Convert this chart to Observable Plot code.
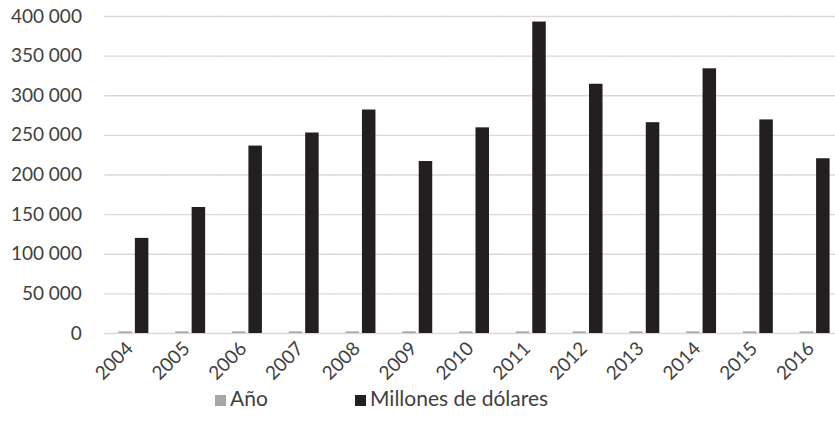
<!DOCTYPE html>
<html>
<head>
<meta charset="utf-8">
<script src="https://cdn.jsdelivr.net/npm/d3@7"></script>
<script src="https://cdn.jsdelivr.net/npm/@observablehq/plot@0.6"></script>
<style>
  body { margin: 0; background: #fff; font-family: Lato, "Open Sans", sans-serif; color: #404040; }
  #chart { width: 835px; overflow: hidden; }
  .legend { position: relative; height: 43px; font-size: 21px; }
  .legend .item { position: absolute; top: 0; display: flex; align-items: baseline; white-space: nowrap; }
  .legend .sw { display: inline-block; width: 11px; height: 11px; margin-right: 4px; }
</style>
</head>
<body>
<div id="chart"></div>
<div class="legend" id="legend"></div>
<script>
// Categories (years) and the two series drawn for each one
const years = [2004, 2005, 2006, 2007, 2008, 2009, 2010, 2011, 2012, 2013, 2014, 2015, 2016];
const anio = [2004, 2005, 2006, 2007, 2008, 2009, 2010, 2011, 2012, 2013, 2014, 2015, 2016];
const millones = [120000, 159000, 236500, 253000, 282000, 217000, 259500, 393000, 314500, 266000, 334000, 269500, 220500];
const series = ["Año", "Millones de dólares"];
const seriesColors = ["#a6a6a6", "#231f20"];
const yTicks = [0, 50000, 100000, 150000, 200000, 250000, 300000, 350000, 400000];

const rows = years.flatMap((year, i) => [
  {year, serie: series[0], value: anio[i]},
  {year, serie: series[1], value: millones[i]}
]);

// Spanish-style grouping: space between thousands
const fmt = d3.formatLocale({decimal: ",", thousands: " ", grouping: [3], currency: ["", ""]}).format(",d");

const chart = Plot.plot({
  width: 835,
  height: 385,
  marginLeft: 105,
  marginRight: -8,
  marginTop: 16,
  marginBottom: 52,
  style: {fontFamily: "Lato, 'Open Sans', sans-serif", fontSize: "19px", color: "#404040", background: "#fff"},
  fx: {domain: years, paddingInner: 0.472, paddingOuter: 0.236, round: false, label: null},
  x: {domain: series, axis: null, paddingInner: 0.18, paddingOuter: 0, round: false},
  y: {domain: [0, 400000], label: null},
  color: {domain: series, range: seriesColors},
  marks: [
    // gridlines stretched across the gaps between year groups
    Plot.ruleY(yTicks, {stroke: "#d9d9d9", strokeWidth: 1.3, insetLeft: -14, insetRight: -14}),
    Plot.barY(rows, {fx: "year", x: "serie", y: "value", fill: "serie"}),
    // the y axis sits in the first facet, so its padding also covers the gap before it
    Plot.axisY(yTicks, {tickSize: 0, tickPadding: 37, tickFormat: fmt, label: null, fontSize: 19}),
    Plot.axisFx({anchor: "bottom", tickRotate: -45, tickSize: 0, tickPadding: 12, dx: -4, tickFormat: d => String(d), label: null, fontSize: 19})
  ]
});
document.getElementById("chart").append(chart);

// Legend below the plot
const legend = document.getElementById("legend");
const legendLeft = [215, 355];
series.forEach((name, i) => {
  const item = document.createElement("div");
  item.className = "item";
  item.style.left = legendLeft[i] + "px";
  const sw = document.createElement("span");
  sw.className = "sw";
  sw.style.background = seriesColors[i];
  const label = document.createElement("span");
  label.textContent = name;
  item.append(sw, label);
  legend.append(item);
});
</script>
</body>
</html>
